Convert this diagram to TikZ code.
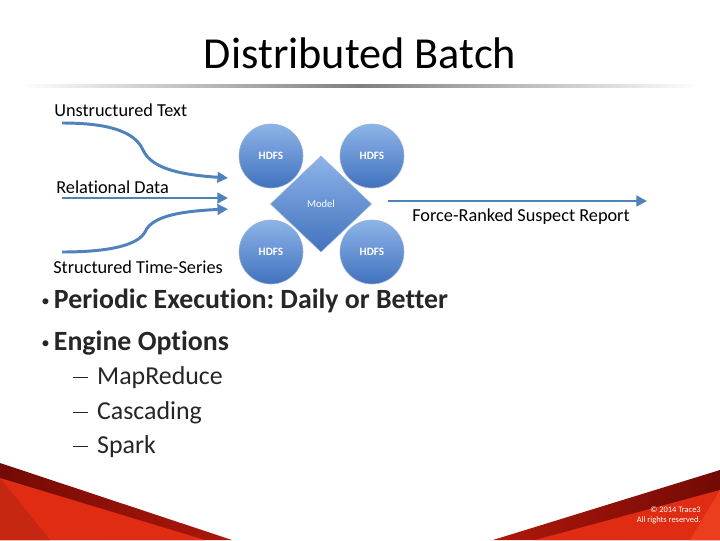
\documentclass[tikz,border=0pt]{standalone}
\usepackage{fontspec}
\setmainfont{Carlito}[Ligatures={NoCommon,NoContextual}]
\frenchspacing
\usetikzlibrary{shapes.geometric, arrows.meta}
\definecolor{flowblue}{RGB}{79,129,189}
\definecolor{diskhi}{RGB}{141,180,232}
\definecolor{disklo}{RGB}{66,114,190}
\definecolor{bandred}{RGB}{115,10,5}
\definecolor{bandlit}{RGB}{175,24,10}
\definecolor{slidered}{RGB}{224,44,18}
\definecolor{facetred}{RGB}{236,62,30}
\definecolor{bodygray}{RGB}{38,38,38}
\newcommand{\dotmark}{\makebox[9pt][l]{\raisebox{1.5pt}{\fontsize{12}{12}\selectfont\mdseries •}}}
\newcommand{\dashmark}{\makebox[17pt][l]{\rule[4.6pt]{10.5pt}{0.9pt}}}

\begin{document}
\begin{tikzpicture}[x=0.025cm, y=-0.025cm,
  every node/.style={inner sep=0pt},
  feed/.style={draw=flowblue, line width=2.1pt, -{Triangle[length=7.5pt,width=7.5pt]}},
  disk/.style={draw=flowblue!60, top color=diskhi, bottom color=disklo, text=white},
  hdfs/.style={disk, circle, minimum size=1.6cm, font=\fontsize{8}{9}\selectfont\bfseries},
  src/.style={anchor=west, font=\fontsize{13}{15}\selectfont},
  item/.style={anchor=west, text=bodygray, font=\fontsize{19.8}{22}\selectfont\bfseries},
  subitem/.style={anchor=west, text=bodygray, font=\fontsize{18.4}{21}\selectfont}]

  \useasboundingbox (0,0) rectangle (720,540);
  \fill[white] (0,0) rectangle (720,540);

  % title and rule
  \node[font=\fontsize{31.5}{38}\selectfont] (title) at (360,53) {Distributed Batch};
  \shade[left color=white, right color=white, middle color=black!50] (20,84) rectangle (700,87);

  % storage round the model
  \node[hdfs] (h1) at (271,156) {HDFS};
  \node[hdfs] (h2) at (372,156) {HDFS};
  \node[hdfs] (h3) at (271,252) {HDFS};
  \node[hdfs] (h4) at (372,252) {HDFS};
  \node[disk, diamond, minimum width=2.53cm, minimum height=2.4cm, font=\fontsize{7.5}{9}\selectfont] (model) at (321,204) {Model};

  % inputs
  \node[src] (txt) at (54,110) {Unstructured Text};
  \node[src] (rel) at (56,187) {Relational Data};
  \node[src] (ts) at (53,267) {Structured Time-Series};
  \coordinate (txt0) at (62,123);
  \coordinate (rel0) at (62,198);
  \coordinate (ts0) at (62,252);
  \coordinate (txt1) at (228,178);
  \coordinate (rel1) at (228,198);
  \coordinate (ts1) at (228,209);
  \draw[feed] (txt0) .. controls (110,123) and (135,132) .. (143,150) .. controls (152,170) and (185,175) .. (txt1);
  \draw[feed] (rel0) -- (rel1);
  \draw[feed] (ts0) .. controls (110,252) and (138,245) .. (145,232) .. controls (152,215) and (185,211) .. (ts1);

  % output
  \coordinate (out0) at (388,201);
  \coordinate (out1) at (647,201);
  \draw[feed] (out0) -- (out1);
  \node[src] (report) at (412,217) {Force-Ranked Suspect Report};

  % bullets
  \node[item] (b1) at (41,301) {\dotmark Periodic Execution: Daily or Better};
  \node[item] (b2) at (41,343) {\dotmark Engine Options};
  \node[subitem] (s1) at (73,378) {\dashmark MapReduce};
  \node[subitem] (s2) at (73,413) {\dashmark Cascading};
  \node[subitem] (s3) at (73,447) {\dashmark Spark};

  % footer
  \shade[left color=bandred, right color=bandlit] (0,463) -- (232,540) -- (0,540) -- cycle;
  \fill[slidered] (0,478) -- (205,540) -- (0,540) -- cycle;
  \fill[slidered!88!black] (0,478) -- (50,540) -- (0,540) -- cycle;
  \shade[left color=bandlit, right color=bandred] (720,470) -- (493,540) -- (720,540) -- cycle;
  \fill[slidered] (720,490) -- (535,540) -- (720,540) -- cycle;
  \fill[facetred] (720,490) -- (690,540) -- (720,540) -- cycle;
  \node[anchor=east, align=right, text=white, font=\fontsize{6}{7}\selectfont] (copy) at (701,515) {© 2014 Trace3\\All rights reserved.};
\end{tikzpicture}
\end{document}
